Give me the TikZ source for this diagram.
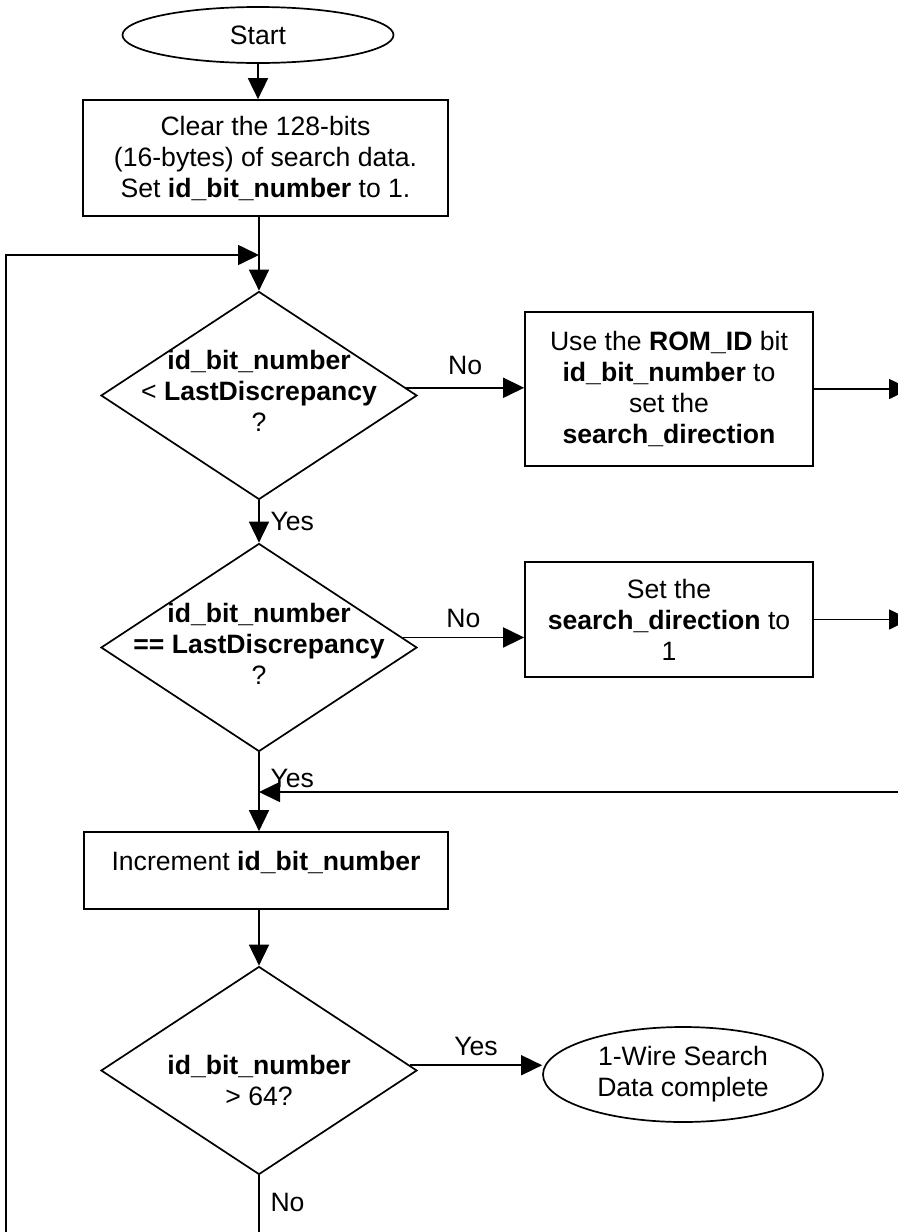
\documentclass[tikz,border=0pt]{standalone}
\usepackage{fontspec}
\setmainfont{Liberation Sans}
\usetikzlibrary{shapes.geometric,arrows.meta,positioning}

\begin{document}
\begin{tikzpicture}[x=0.5pt,y=-0.5pt,line width=0.85pt,
    font=\fontsize{13.3}{15.5}\selectfont,
    arr/.style={-{Triangle[length=10.5pt,width=10pt]}},
    terminal/.style={ellipse,draw,inner sep=0pt,align=center},
    process/.style={rectangle,draw,inner sep=2pt,align=center},
    decision/.style={diamond,draw,inner sep=0pt,minimum width=158pt,minimum height=104pt}]
  \useasboundingbox (0,0) rectangle (898,1232);

  \node[terminal,minimum width=135.5pt,minimum height=28pt](start) at (258,35){Start};
  \node[process,minimum width=182.5pt,minimum height=58pt](clear) at (265.5,158){Clear the 128-bits\\(16-bytes) of search data.\\Set \textbf{id\_bit\_number} to 1.};
  \coordinate (loop) at (259,255);
  \node[decision,label={[align=center,yshift=2.5pt]center:\textbf{id\_bit\_number}\\< \textbf{LastDiscrepancy}\\?}](lt) at (259,395.5){};
  \node[process,minimum width=144pt,minimum height=77pt](rom) at (669,389){Use the \textbf{ROM\_ID} bit\\\textbf{id\_bit\_number} to\\set the\\\textbf{search\_direction}};
  \node[decision,label={[align=center,yshift=2pt]center:\textbf{id\_bit\_number}\\\textbf{== LastDiscrepancy}\\?}](eq) at (259,647.5){};
  \node[process,minimum width=144pt,minimum height=57.5pt](one) at (669,619.5){Set the\\\textbf{search\_direction} to\\1};
  \node[process,minimum width=182pt,minimum height=38.5pt,text depth=10pt](inc) at (266,870.5){Increment \textbf{id\_bit\_number}};
  \node[decision,label={[align=center,yshift=-5pt]center:\textbf{id\_bit\_number}\\> 64?}](gt) at (259,1070.5){};
  \node[terminal,minimum width=140pt,minimum height=47.5pt](done) at (683,1074.5){1-Wire Search\\Data complete};
  \coordinate (outa) at (910,0);
  \coordinate (outb) at (910,792);
  \coordinate (enda) at (259,1240);
  \coordinate (endb) at (6,1240);

  \draw[arr] (start.south) -- (start.south |- clear.north);
  \draw[arr] (clear.south -| lt.north) -- (lt.north);
  \draw[arr] (endb) |- (loop);
  \draw[arr] (lt.3) -- (lt.3 -| rom.west) node[midway,above=3pt]{No};
  \draw[arr] (rom.east) -- (rom.east -| outa);
  \draw[arr] (lt.south) -- (eq.north) node[midway,right=2pt]{Yes};
  \draw[arr] (eq.4) -- (eq.4 -| one.west) node[midway,above=1pt]{No};
  \draw[arr] (one.east) -- (one.east -| outa);
  \draw[arr] (eq.south) -- (eq.south |- inc.north) node[pos=0.33,right=2pt]{Yes};
  \draw[arr] (outb) -- (outb -| eq.south);
  \draw[arr] (inc.south -| gt.north) -- (gt.north);
  \draw[arr] (gt.2) -- (gt.2 -| done.west) node[midway,above=1pt]{Yes};
  \draw (gt.south) -- (enda) node[pos=0.42,right=2pt]{No};
\end{tikzpicture}
\end{document}
